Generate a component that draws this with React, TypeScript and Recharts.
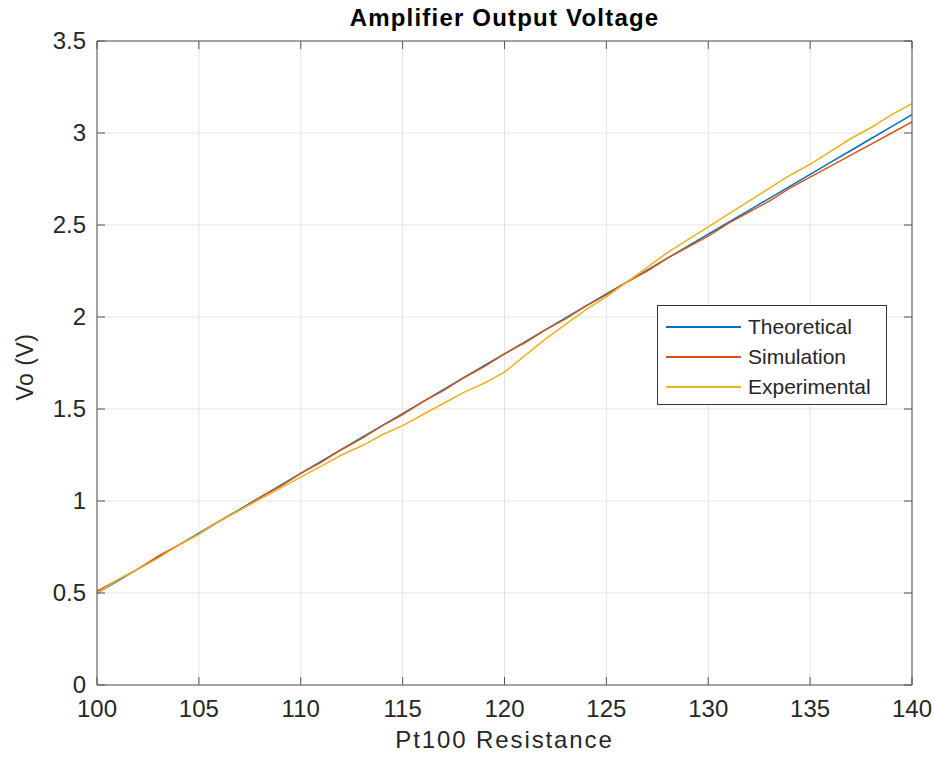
import { CartesianGrid, Line, LineChart, XAxis, YAxis } from "recharts";

const RESISTANCE = [
  100, 101, 102, 103, 104, 105, 106, 107, 108, 109, 110, 111, 112, 113, 114, 115, 116, 117, 118, 119, 120,
  121, 122, 123, 124, 125, 126, 127, 128, 129, 130, 131, 132, 133, 134, 135, 136, 137, 138, 139, 140,
];

const THEORETICAL = [
  0.5, 0.565, 0.63, 0.695, 0.76, 0.825, 0.89, 0.955, 1.02, 1.085, 1.15, 1.215, 1.28, 1.345, 1.41, 1.475,
  1.54, 1.605, 1.67, 1.735, 1.8, 1.865, 1.93, 1.995, 2.06, 2.125, 2.19, 2.255, 2.32, 2.385, 2.45, 2.515,
  2.58, 2.645, 2.71, 2.775, 2.84, 2.905, 2.97, 3.035, 3.1,
];

const SIMULATION = [
  0.51, 0.57, 0.63, 0.7, 0.76, 0.82, 0.89, 0.95, 1.02, 1.08, 1.15, 1.21, 1.28, 1.34, 1.41, 1.47, 1.54,
  1.6, 1.67, 1.73, 1.8, 1.86, 1.93, 1.99, 2.06, 2.12, 2.19, 2.25, 2.32, 2.38, 2.44, 2.51, 2.57, 2.63, 2.7,
  2.76, 2.82, 2.88, 2.94, 3.0, 3.06,
];

const EXPERIMENTAL = [
  0.5, 0.57, 0.63, 0.69, 0.76, 0.82, 0.89, 0.95, 1.01, 1.07, 1.13, 1.19, 1.25, 1.3, 1.36, 1.41, 1.47,
  1.53, 1.59, 1.64, 1.7, 1.79, 1.88, 1.96, 2.04, 2.11, 2.19, 2.27, 2.35, 2.42, 2.49, 2.56, 2.63, 2.7,
  2.77, 2.83, 2.9, 2.97, 3.03, 3.1, 3.16,
];

const X_TICKS = [100, 105, 110, 115, 120, 125, 130, 135, 140];
const Y_TICKS = [0, 0.5, 1, 1.5, 2, 2.5, 3, 3.5];

const SERIES = [
  { key: "theoretical", name: "Theoretical", color: "#0072BD" },
  { key: "simulation", name: "Simulation", color: "#D95319" },
  { key: "experimental", name: "Experimental", color: "#EDB120" },
];

const data = RESISTANCE.map((r, i) => ({
  r,
  theoretical: THEORETICAL[i],
  simulation: SIMULATION[i],
  experimental: EXPERIMENTAL[i],
}));

const FONT = "'Liberation Sans', Arial, Helvetica, sans-serif";
const AXIS_COLOR = "#555555";
const TEXT_COLOR = "#262626";

function BottomTick({ x, y, payload }: any) {
  return (
    <g>
      <line x1={x} x2={x} y1={y} y2={y - 8} stroke={AXIS_COLOR} />
      <text x={x} y={y + 32} textAnchor="middle" fontSize={24} fontFamily={FONT} fill={TEXT_COLOR}>
        {payload.value}
      </text>
    </g>
  );
}

function TopTick({ x, y }: any) {
  return <line x1={x} x2={x} y1={y} y2={y + 8} stroke={AXIS_COLOR} />;
}

function LeftTick({ x, y, payload }: any) {
  return (
    <g>
      <line x1={x} x2={x + 8} y1={y} y2={y} stroke={AXIS_COLOR} />
      <text x={x - 11} y={y + 8} textAnchor="end" fontSize={24} fontFamily={FONT} fill={TEXT_COLOR}>
        {payload.value}
      </text>
    </g>
  );
}

function RightTick({ x, y }: any) {
  return <line x1={x} x2={x - 8} y1={y} y2={y} stroke={AXIS_COLOR} />;
}

function LegendBox() {
  return (
    <div
      style={{
        position: "absolute",
        left: 657,
        top: 305,
        width: 230,
        height: 100,
        boxSizing: "border-box",
        border: "1.5px solid #333",
        background: "#fff",
        fontFamily: FONT,
        fontSize: 21,
        color: TEXT_COLOR,
      }}
    >
      {SERIES.map((s, i) => (
        <div
          key={s.key}
          style={{ position: "absolute", left: 0, top: 21 + i * 30 - 12, height: 24, display: "flex", alignItems: "center" }}
        >
          <div style={{ marginLeft: 8, width: 75, height: 1.5, background: s.color }} />
          <span style={{ marginLeft: 7, lineHeight: "24px" }}>{s.name}</span>
        </div>
      ))}
    </div>
  );
}

export default function App() {
  return (
    <div style={{ position: "absolute", left: 0, top: 0, width: 934, height: 760, background: "#fff" }}>
      <LineChart width={934} height={760} data={data} margin={{ top: 40, right: 21, bottom: 74, left: 96 }}>
        <CartesianGrid stroke="#e3e3e3" strokeWidth={1} />
        <XAxis
          dataKey="r"
          type="number"
          domain={[100, 140]}
          ticks={X_TICKS}
          interval={0}
          height={1}
          tickSize={0}
          tickMargin={0}
          tickLine={false}
          tick={<BottomTick />}
          stroke={AXIS_COLOR}
          allowDataOverflow
        />
        <XAxis
          xAxisId="top"
          orientation="top"
          dataKey="r"
          type="number"
          domain={[100, 140]}
          ticks={X_TICKS}
          interval={0}
          height={1}
          tickSize={0}
          tickMargin={0}
          tickLine={false}
          tick={<TopTick />}
          stroke={AXIS_COLOR}
          allowDataOverflow
        />
        <YAxis
          type="number"
          domain={[0, 3.5]}
          ticks={Y_TICKS}
          interval={0}
          width={1}
          tickSize={0}
          tickMargin={0}
          tickLine={false}
          tick={<LeftTick />}
          stroke={AXIS_COLOR}
          allowDataOverflow
        />
        <YAxis
          yAxisId="right"
          orientation="right"
          type="number"
          domain={[0, 3.5]}
          ticks={Y_TICKS}
          interval={0}
          width={1}
          tickSize={0}
          tickMargin={0}
          tickLine={false}
          tick={<RightTick />}
          stroke={AXIS_COLOR}
          allowDataOverflow
        />
        {SERIES.map((s) => (
          <Line
            key={s.key}
            type="linear"
            dataKey={s.key}
            name={s.name}
            stroke={s.color}
            strokeWidth={1.5}
            dot={false}
            isAnimationActive={false}
          />
        ))}
      </LineChart>
      <LegendBox />
      <div
        style={{
          position: "absolute",
          left: 97,
          width: 815,
          top: 6,
          textAlign: "center",
          fontFamily: FONT,
          fontWeight: "bold",
          fontSize: 24,
          lineHeight: "24px",
          letterSpacing: 1.2,
          color: "#000",
        }}
      >
        Amplifier Output Voltage
      </div>
      <div
        style={{
          position: "absolute",
          left: 97,
          width: 815,
          top: 728,
          textAlign: "center",
          fontFamily: FONT,
          fontSize: 24,
          lineHeight: "24px",
          letterSpacing: 1.9,
          color: TEXT_COLOR,
        }}
      >
        Pt100 Resistance
      </div>
      <div
        style={{
          position: "absolute",
          left: 25,
          top: 367,
          transform: "translate(-50%, -50%) rotate(-90deg)",
          whiteSpace: "nowrap",
          fontFamily: FONT,
          fontSize: 23,
          lineHeight: "24px",
          letterSpacing: 0.5,
          color: TEXT_COLOR,
        }}
      >
        Vo (V)
      </div>
    </div>
  );
}
